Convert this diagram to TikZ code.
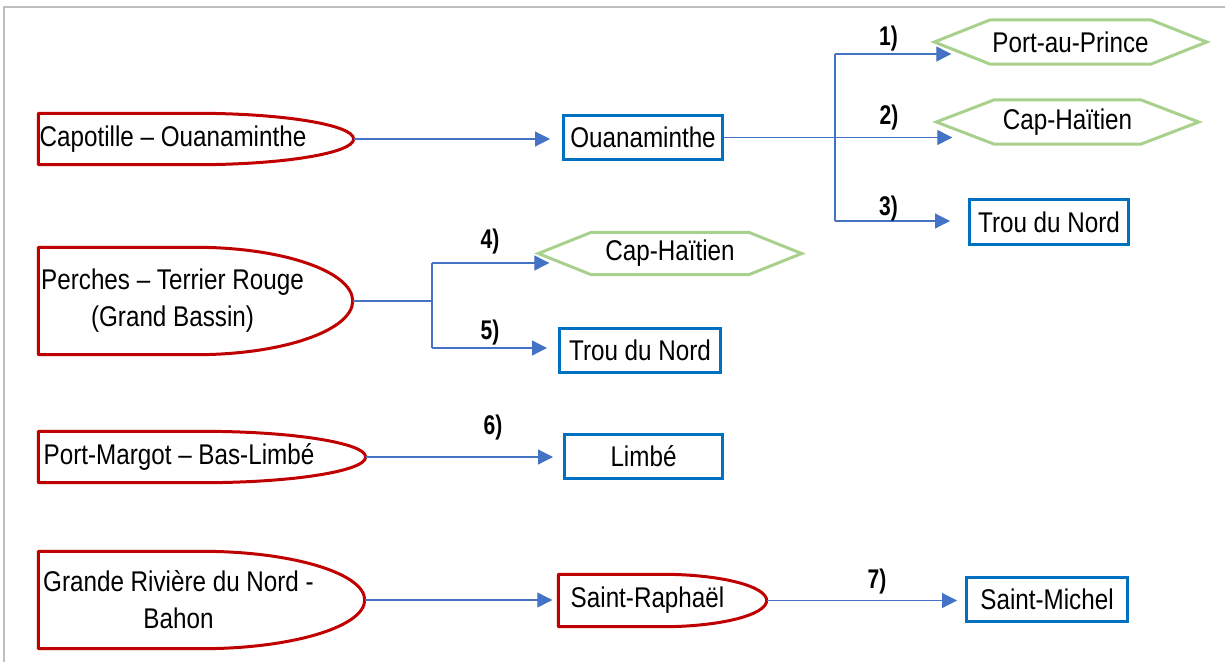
\documentclass[tikz,border=0pt]{standalone}
\usepackage{fontspec}
\setmainfont{Liberation Sans}[FakeStretch=0.85]
\newfontfamily\numfont{Liberation Sans Bold}[FakeStretch=0.78]
\usetikzlibrary{arrows.meta}
\definecolor{linkblue}{HTML}{4472C4}
\definecolor{boxblue}{HTML}{0070C0}
\definecolor{darkred}{HTML}{C00000}
\definecolor{softgreen}{HTML}{A9D18E}
\definecolor{framegray}{HTML}{BFBFBF}

% Flat-left, half-ellipse-right outline around an empty node
% #1 name, #2 x, #3 y, #4 width, #5 height, #6 text shift, #7 text
\newcommand\delaynode[7]{%
  \node[shapebox, minimum width=#4, minimum height=#5] (#1) at (#2,#3) {};
  \draw[redline] (#1.south west) -- (#1.north west)
    -- ([xshift={-#4/2}]#1.north east)
    .. controls ([xshift={-0.224*#4}]#1.north east) and ([yshift={0.276*#5}]#1.east) .. (#1.east)
    .. controls ([yshift={-0.276*#5}]#1.east) and ([xshift={-0.224*#4}]#1.south east) .. ([xshift={-#4/2}]#1.south east)
    -- cycle;
  \node[txt, align=center] (#1-t) at ([xshift=#6]#1.center) {#7};
}
% Hexagon with pointed ends
% #1 name, #2 x, #3 y, #4 width, #5 height, #6 indent, #7 text
\newcommand\hexnode[7]{%
  \node[shapebox, txt, minimum width=#4, minimum height=#5] (#1) at (#2,#3) {#7};
  \draw[greenline] (#1.west) -- ([xshift=#6]#1.north west) -- ([xshift=-#6]#1.north east)
    -- (#1.east) -- ([xshift=-#6]#1.south east) -- ([xshift=#6]#1.south west) -- cycle;
}

\tikzset{
  txt/.style={font=\fontsize{28.5}{37}\selectfont, inner sep=0pt, text=black},
  shapebox/.style={rectangle, inner sep=0pt},
  redline/.style={draw=darkred, line width=3pt, line join=round},
  greenline/.style={draw=softgreen, line width=3pt, line join=miter},
  bluebox/.style={rectangle, draw=boxblue, line width=3pt, txt, inner sep=0pt, fill=white},
  link/.style={draw=linkblue, line width=1.2pt},
  arr/.style={link, -{Triangle[length=15pt, width=15pt]}},
  num/.style={font=\fontsize{27}{27}\selectfont\numfont, inner sep=0pt},
  frameline/.style={draw=framegray, line width=2pt},
}

\begin{document}
\begin{tikzpicture}[x=1pt, y=-1pt]
\useasboundingbox (0,0) rectangle (1225,661);
\clip (0,0) rectangle (1225,661);
\draw[frameline] (4,7) rectangle (1240,680);

% origin shapes
\delaynode{capo}{196}{139}{315}{51}{-23}{Capotille – Ouanaminthe}
\delaynode{perc}{195.5}{301}{314}{107}{-23}{Perches – Terrier Rouge\\(Grand Bassin)}
\delaynode{marg}{202}{457}{327}{51}{-23}{Port-Margot – Bas-Limbé}
\delaynode{gran}{201.5}{600}{326}{97}{-23}{Grande Rivière du Nord -\\Bahon}
\delaynode{raph}{662.5}{600.5}{208}{52}{-15}{Saint-Raphaël}

% blue boxes
\node[bluebox, minimum width=159, minimum height=44] (ouan) at (643,137.5) {Ouanaminthe};
\node[bluebox, minimum width=159, minimum height=45] (trou1) at (1049,222) {Trou du Nord};
\node[bluebox, minimum width=161, minimum height=44] (trou2) at (640,350.5) {Trou du Nord};
\node[bluebox, minimum width=158, minimum height=44] (limb) at (643.5,456.5) {Limbé};
\node[bluebox, minimum width=161, minimum height=44] (mich) at (1047,599.5) {Saint-Michel};

% green hexagons
\hexnode{pap}{1070.5}{42}{272}{44}{56}{Port-au-Prince}
\hexnode{cap1}{1067.5}{122}{262}{44}{58}{Cap-Haïtien}
\hexnode{cap2}{670}{253.5}{263}{42}{53}{Cap-Haïtien}

% branch points
\coordinate (b1) at (835,54);
\coordinate (b3) at (835,221);
\coordinate (b4) at (432,263);
\coordinate (b5) at (432,348);

% connectors
\draw[arr, shorten >=12pt] (capo.east) -- (ouan.west |- capo.east);
\draw[link] (b1) -- (b3);
\draw[arr, shorten >=-16pt] (ouan.east) -- (cap1.west |- ouan.east);
\draw[arr, shorten >=-17pt] (b1) -- (pap.west |- b1);
\draw[arr, shorten >=18pt] (b3) -- (trou1.west |- b3);

\draw[link] (perc.east) -- (b4 |- perc.east);
\draw[link] (b4) -- (b5);
\draw[arr, shorten >=-11pt] (b4) -- (cap2.west |- b4);
\draw[arr, shorten >=11pt] (b5) -- (trou2.west |- b5);

\draw[arr, shorten >=10pt] (marg.east) -- (limb.west |- marg.east);
\draw[arr, shorten >=6pt] (gran.east) -- (raph.west |- gran.east);
\draw[arr, shorten >=8pt] (raph.east) -- (mich.west |- raph.east);

% route numbers
\node[num] (n1) at (888.5,39) {1)};
\node[num] (n2) at (889,117.5) {2)};
\node[num] (n3) at (888.5,209) {3)};
\node[num] (n4) at (490,242) {4)};
\node[num] (n5) at (490,333) {5)};
\node[num] (n6) at (493,428) {6)};
\node[num] (n7) at (877,582) {7)};
\end{tikzpicture}
\end{document}
